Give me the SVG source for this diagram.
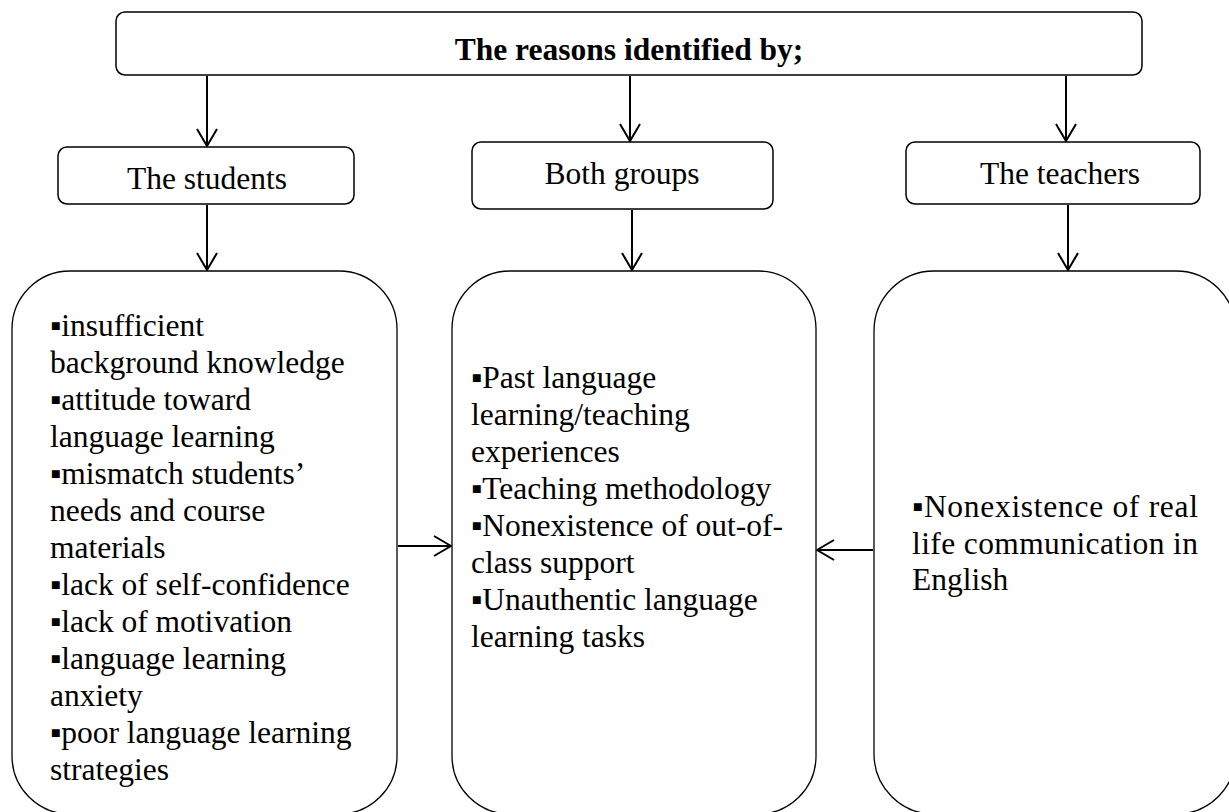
<svg xmlns="http://www.w3.org/2000/svg" width="1229" height="812" viewBox="0 0 1229 812">
  <style>
    .box { fill: #ffffff; stroke: #000000; stroke-width: 1.5; }
    .big { fill: none; stroke: #000000; stroke-width: 1.3; }
    .t { font-family: "Liberation Serif", "DejaVu Serif", serif; font-size: 31.5px; fill: #000000; }
    .title { font-family: "Liberation Serif", "DejaVu Serif", serif; font-size: 31.5px; font-weight: bold; fill: #000000; }
    .mid { text-anchor: middle; }
    .conn { fill: none; stroke: #000000; stroke-width: 2; }
  </style>
  <defs>
    <marker id="arr" viewBox="0 0 20 22" refX="19" refY="11" markerWidth="20" markerHeight="22" markerUnits="userSpaceOnUse" orient="auto">
      <path d="M2,1 L19,11 L2,21" fill="none" stroke="#000000" stroke-width="2"/>
    </marker>
  </defs>
  <rect width="1229" height="812" fill="#ffffff"/>

  <g id="title-node">
    <rect class="box" x="116" y="12" width="1026" height="63" rx="9"/>
    <text class="title mid" x="629" y="60">The reasons identified by;</text>
  </g>

  <g id="students-node">
    <rect class="box" x="58" y="147" width="296" height="57" rx="9"/>
    <text class="t mid" x="207" y="189">The students</text>
  </g>

  <g id="both-node">
    <rect class="box" x="472" y="142" width="301" height="67" rx="9"/>
    <text class="t mid" x="622" y="184">Both groups</text>
  </g>

  <g id="teachers-node">
    <rect class="box" x="906" y="142" width="294" height="62" rx="9"/>
    <text class="t mid" x="1060" y="184">The teachers</text>
  </g>

  <g id="students-reasons">
    <rect class="big" x="12" y="271" width="385" height="543" rx="58"/>
    <text class="t" x="50" y="336">▪insufficient</text>
    <text class="t" x="50" y="373">background knowledge</text>
    <text class="t" x="50" y="410">▪attitude toward</text>
    <text class="t" x="50" y="447">language learning</text>
    <text class="t" x="50" y="484">▪mismatch students’</text>
    <text class="t" x="50" y="521">needs and course</text>
    <text class="t" x="50" y="558">materials</text>
    <text class="t" x="50" y="595">▪lack of self-confidence</text>
    <text class="t" x="50" y="632">▪lack of motivation</text>
    <text class="t" x="50" y="669">▪language learning</text>
    <text class="t" x="50" y="706">anxiety</text>
    <text class="t" x="50" y="743">▪poor language learning</text>
    <text class="t" x="50" y="780">strategies</text>
  </g>

  <g id="both-reasons">
    <rect class="big" x="452" y="271" width="364" height="543" rx="58"/>
    <text class="t" x="471" y="388">▪Past language</text>
    <text class="t" x="471" y="425">learning/teaching</text>
    <text class="t" x="471" y="462">experiences</text>
    <text class="t" x="471" y="499">▪Teaching methodology</text>
    <text class="t" x="471" y="536">▪Nonexistence of out-of-</text>
    <text class="t" x="471" y="573">class support</text>
    <text class="t" x="471" y="610">▪Unauthentic language</text>
    <text class="t" x="471" y="647">learning tasks</text>
  </g>

  <g id="teachers-reasons">
    <rect class="big" x="874" y="271" width="362" height="543" rx="60"/>
    <text class="t" x="912" y="517" textLength="286" lengthAdjust="spacing">▪Nonexistence of real</text>
    <text class="t" x="912" y="554" textLength="286" lengthAdjust="spacing">life communication in</text>
    <text class="t" x="912" y="590">English</text>
  </g>

  <g id="connectors">
    <line class="conn" x1="207" y1="76" x2="207" y2="146" marker-end="url(#arr)"/>
    <line class="conn" x1="630" y1="76" x2="630" y2="141" marker-end="url(#arr)"/>
    <line class="conn" x1="1066" y1="76" x2="1066" y2="141" marker-end="url(#arr)"/>
    <line class="conn" x1="207" y1="205" x2="207" y2="270" marker-end="url(#arr)"/>
    <line class="conn" x1="632" y1="210" x2="632" y2="270" marker-end="url(#arr)"/>
    <line class="conn" x1="1068" y1="205" x2="1068" y2="270" marker-end="url(#arr)"/>
    <line class="conn" x1="398" y1="546" x2="451" y2="546" marker-end="url(#arr)"/>
    <line class="conn" x1="873" y1="550" x2="817" y2="550" marker-end="url(#arr)"/>
  </g>
</svg>
